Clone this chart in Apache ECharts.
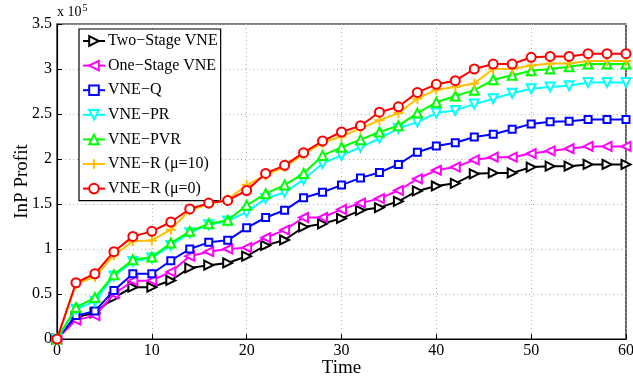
<!DOCTYPE html>
<html><head><meta charset="utf-8">
<script src="https://cdn.jsdelivr.net/npm/echarts@6/dist/echarts.min.js"></script>
<style>html,body{margin:0;padding:0;background:#fff}#c{width:633px;height:379px}</style>
</head><body><div id="c"></div>
<script>
const time = [0,2,4,6,8,10,12,14,16,18,20,22,24,26,28,30,32,34,36,38,40,42,44,46,48,50,52,54,56,58,60];
const twoStage = [0,0.245,0.29,0.46,0.575,0.575,0.65,0.79,0.82,0.845,0.92,1.04,1.10,1.245,1.28,1.34,1.43,1.46,1.53,1.645,1.70,1.73,1.835,1.845,1.845,1.91,1.92,1.92,1.94,1.94,1.94];
const oneStage = [0,0.21,0.26,0.50,0.645,0.65,0.745,0.92,0.97,1.00,1.015,1.125,1.21,1.35,1.35,1.44,1.51,1.56,1.65,1.78,1.875,1.91,1.99,2.02,2.02,2.06,2.09,2.115,2.14,2.14,2.14];
const vneQ = [0,0.26,0.31,0.54,0.725,0.725,0.87,1.00,1.074,1.096,1.235,1.35,1.43,1.57,1.63,1.71,1.79,1.85,1.94,2.075,2.145,2.18,2.245,2.275,2.33,2.39,2.415,2.42,2.44,2.44,2.44];
const vnePR = [0,0.33,0.42,0.70,0.86,0.90,1.04,1.18,1.27,1.31,1.41,1.56,1.63,1.77,1.95,2.04,2.13,2.23,2.34,2.41,2.51,2.54,2.61,2.67,2.73,2.78,2.80,2.815,2.85,2.85,2.85];
const vnePVR = [0,0.35,0.46,0.715,0.88,0.91,1.066,1.196,1.28,1.32,1.485,1.615,1.71,1.84,2.04,2.13,2.215,2.30,2.37,2.51,2.63,2.70,2.765,2.88,2.93,2.98,3.00,3.025,3.055,3.055,3.055];
const vneR10 = [0,0.61,0.69,0.93,1.085,1.095,1.215,1.43,1.50,1.55,1.71,1.82,1.91,2.05,2.18,2.25,2.34,2.43,2.51,2.67,2.77,2.80,2.84,3.00,3.00,3.04,3.06,3.06,3.09,3.09,3.09];
const vneR0 = [0,0.625,0.725,0.97,1.14,1.196,1.30,1.445,1.51,1.54,1.65,1.84,1.93,2.07,2.20,2.30,2.37,2.52,2.58,2.74,2.83,2.87,3.00,3.055,3.055,3.13,3.14,3.14,3.17,3.17,3.17];
const names = ['Two\u2212Stage VNE','One\u2212Stage VNE','VNE\u2212Q','VNE\u2212PR','VNE\u2212PVR','VNE\u2212R (\u03bc=10)','VNE\u2212R (\u03bc=0)'];
const yTicks = [0,0.5,1,1.5,2,2.5,3,3.5];

const colors = ['#000000','#ff00ff','#0000ff','#00ffff','#00ff00','#ffbf00','#ff0000'];
const symbols = [
  'path://M0,0L10,5L0,10Z',
  'path://M10,0L0,5L10,10Z',
  'rect',
  'path://M0,0L10,0L5,9Z',
  'path://M5,0L10,9L0,9Z',
  'path://M5,0L5,10M0,5L10,5',
  'circle'
];
const sizes = [9,9,7,9,9,10,9];
const datas = [twoStage,oneStage,vneQ,vnePR,vnePVR,vneR10,vneR0];
const FONT = 'Liberation Serif';

const series = datas.map((d,i)=>({
  name: names[i], type:'line', data: time.map((t,j)=>[t,d[j]]),
  symbol: symbols[i], symbolSize: sizes[i], showAllSymbol:true,
  lineStyle:{color:colors[i], width:2},
  itemStyle:{color: i===5 ? colors[i] : '#ffffff', borderColor:colors[i], borderWidth:2},
  z: 2+i, animation:false
}));

const chart = echarts.init(document.getElementById('c'), null, {renderer:'canvas'});
chart.setOption({
  animation:false,
  backgroundColor:'#fff',
  grid:{left:57,right:7,top:24,bottom:40,show:true,borderColor:'#000',borderWidth:1.2,
    containLabel:false,outerBoundsMode:'none'},
  xAxis:{type:'value',min:0,max:60,interval:10,
    name:'Time',nameLocation:'middle',nameGap:20,nameMoveOverlap:false,nameTextStyle:{fontFamily:FONT,fontSize:19,color:'#000'},
    axisLine:{lineStyle:{color:'#000',width:1.2}},
    axisTick:{inside:true,length:5,lineStyle:{color:'#000'}},
    axisLabel:{fontFamily:FONT,fontSize:16,color:'#000',margin:4},
    splitLine:{show:true,lineStyle:{color:'#b0b0b0',type:[1,3],width:1}}},
  yAxis:{type:'value',min:0,max:3.5,interval:0.5,
    name:'InP Profit',nameLocation:'middle',nameGap:25,nameMoveOverlap:false,nameTextStyle:{fontFamily:FONT,fontSize:19,color:'#000'},
    axisLine:{lineStyle:{color:'#000',width:1.2}},
    axisTick:{inside:true,length:5,lineStyle:{color:'#000'}},
    axisLabel:{fontFamily:FONT,fontSize:16,color:'#000',margin:5,
      formatter:v=>{const k=yTicks.indexOf(v);return k>=0?String(yTicks[k]):'';}},
    splitLine:{show:true,lineStyle:{color:'#b0b0b0',type:[1,3],width:1}}},
  legend:{orient:'vertical',left:79,top:29,data:names,
    backgroundColor:'#fff',borderColor:'#000',borderWidth:1.2,
    padding:[4,3,4,3],itemWidth:22,itemHeight:12,itemGap:8.6,
    textStyle:{fontFamily:FONT,fontSize:16,color:'#000',padding:[0,0,0,-2]}},
  graphic:[{type:'text',left:57,top:3,style:{text:'x 10{s|5}',fontFamily:FONT,fontSize:14,fill:'#000',
    rich:{s:{fontFamily:FONT,fontSize:10,verticalAlign:'top',padding:[0,0,8,1]}}}}],
  series: series
});
</script></body></html>
